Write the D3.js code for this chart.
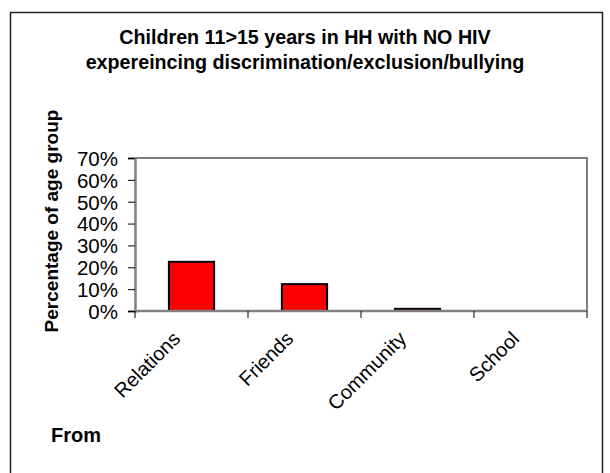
<!DOCTYPE html>
<html>
<head>
<meta charset="utf-8">
<script src="https://cdn.jsdelivr.net/npm/d3@7"></script>
<style>
  html, body { margin: 0; padding: 0; background: #fff; }
  svg { display: block; font-family: "Liberation Sans", Arial, sans-serif; }
</style>
</head>
<body>
<svg id="chart" width="610" height="473"></svg>
<script>
// Share of children reporting discrimination, by source
const categories = ["Relations", "Friends", "Community", "School"];
const percentages = [22.5, 12.3, 1.0, 0];
const yTicks = [0, 10, 20, 30, 40, 50, 60, 70];
const titleLines = ["Children 11>15 years in HH with NO HIV",
                    "expereincing discrimination/exclusion/bullying"];
const yAxisTitle = "Percentage of age group";
const xAxisTitle = "From";

const svg = d3.select("#chart");

// outer frame
svg.append("rect")
  .attr("x", 10.5).attr("y", 12.5)
  .attr("width", 592).attr("height", 470)
  .attr("fill", "#fff").attr("stroke", "#222").attr("stroke-width", 1.5);

const plot = { left: 135, right: 587, top: 158, bottom: 311 };

const x = d3.scaleBand()
  .domain(categories)
  .range([plot.left, plot.right])
  .paddingInner(0.6).paddingOuter(0.3);

const y = d3.scaleLinear()
  .domain([0, 70])
  .range([plot.bottom, plot.top]);

// plot area border (top and right)
svg.append("path")
  .attr("d", `M${plot.left},${plot.top}H${plot.right}V${plot.bottom}`)
  .attr("fill", "none").attr("stroke", "#808080").attr("stroke-width", 2);

// bars
svg.append("g").selectAll("rect")
  .data(percentages)
  .join("rect")
  .attr("x", (d, i) => x(categories[i]))
  .attr("y", d => y(d))
  .attr("width", x.bandwidth())
  .attr("height", d => y(0) - y(d))
  .attr("fill", "#ff0000")
  .attr("stroke", "#000")
  .attr("stroke-width", 2)
  .attr("visibility", d => d > 0 ? "visible" : "hidden");

// y axis
const yAxis = d3.axisLeft(y)
  .tickValues(yTicks)
  .tickFormat(d => d + "%")
  .tickSize(7)
  .tickPadding(10);
const gy = svg.append("g")
  .attr("transform", `translate(${plot.left},0)`)
  .call(yAxis);
gy.select(".domain").attr("stroke", "#808080").attr("stroke-width", 2.5);
gy.selectAll(".tick line").attr("stroke", "#000").attr("stroke-width", 1);
gy.selectAll(".tick text")
  .attr("font-size", 20.5).attr("fill", "#000")
  .attr("font-family", "Liberation Sans, Arial, sans-serif")
  .attr("dy", "0.36em");

// x axis: ticks at band boundaries
const xAxisLine = svg.append("g");
xAxisLine.append("line")
  .attr("x1", plot.left).attr("x2", plot.right)
  .attr("y1", plot.bottom).attr("y2", plot.bottom)
  .attr("stroke", "#808080").attr("stroke-width", 2.5);
const boundaries = d3.range(categories.length + 1)
  .map(i => plot.left + i * (plot.right - plot.left) / categories.length);
xAxisLine.selectAll("line.tk")
  .data(boundaries)
  .join("line")
  .attr("class", "tk")
  .attr("x1", d => d).attr("x2", d => d)
  .attr("y1", plot.bottom).attr("y2", plot.bottom + 7)
  .attr("stroke", "#000").attr("stroke-width", 1);

// x category labels, rotated
svg.append("g").selectAll("text")
  .data(categories)
  .join("text")
  .attr("transform", d => `translate(${x(d) + x.bandwidth() / 2 - 10},${plot.bottom + 29}) rotate(-45)`)
  .attr("text-anchor", "end")
  .attr("font-size", 20)
  .attr("fill", "#000")
  .text(d => d);

// title
svg.append("g").selectAll("text")
  .data(titleLines)
  .join("text")
  .attr("x", 305)
  .attr("y", (d, i) => 44 + i * 25)
  .attr("text-anchor", "middle")
  .attr("font-size", 19.7)
  .attr("font-weight", "bold")
  .attr("fill", "#000")
  .text(d => d);

// y axis title
svg.append("text")
  .attr("transform", `translate(58,221) rotate(-90)`)
  .attr("text-anchor", "middle")
  .attr("font-size", 19)
  .attr("font-weight", "bold")
  .attr("fill", "#000")
  .text(yAxisTitle);

// x axis title
svg.append("text")
  .attr("x", 51).attr("y", 442)
  .attr("font-size", 20)
  .attr("font-weight", "bold")
  .attr("fill", "#000")
  .text(xAxisTitle);
</script>
</body>
</html>
